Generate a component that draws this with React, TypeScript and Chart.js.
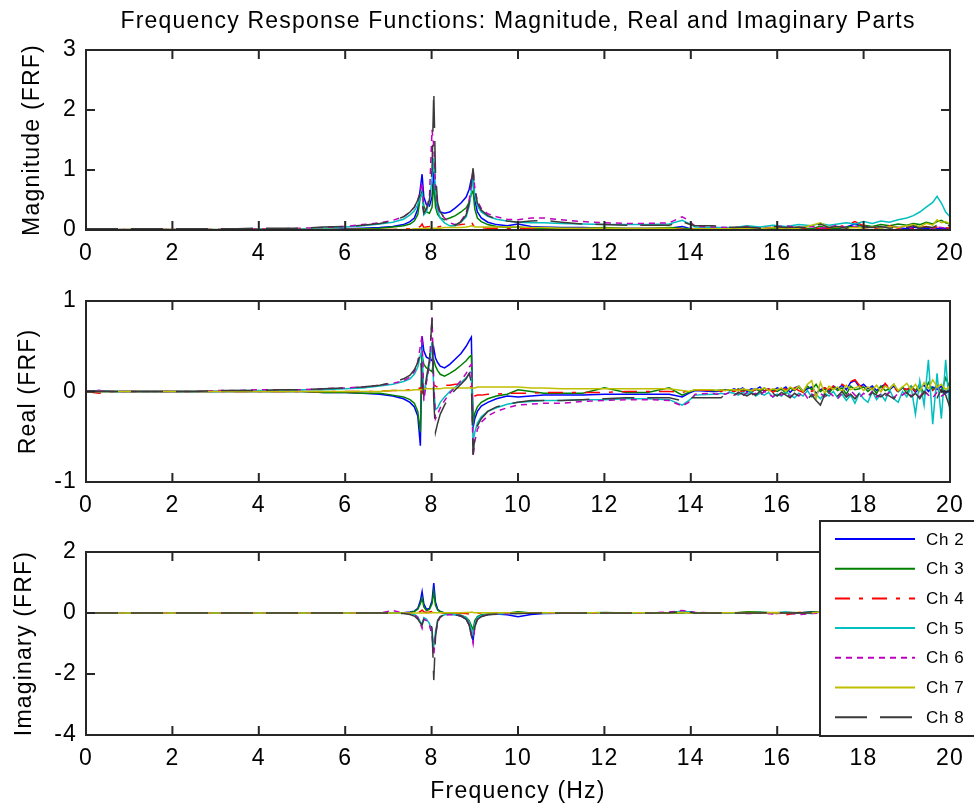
import React, { useEffect, useRef } from "react";
import { Chart, registerables } from "chart.js";
Chart.register(...registerables);

const FONT = '"Liberation Sans", Arial, Helvetica, sans-serif';
const W = 974;

// Frequency axis (Hz) for magnitude and imaginary panels
const FREQ = [
  0, 0.3, 0.6, 1, 1.5, 2, 2.5, 3, 3.5, 4, 4.5, 5, 5.5, 6,
  6.4, 6.8, 7.1, 7.35, 7.5, 7.6, 7.68, 7.74, 7.78, 7.82, 7.88, 7.95,
  8.01, 8.05, 8.09, 8.14, 8.2, 8.3, 8.42, 8.55, 8.68, 8.8, 8.87, 8.92, 8.96, 9.0, 9.06, 9.15,
  9.3, 9.5, 9.75, 10, 10.3, 10.6, 11, 11.5, 12, 12.5, 13, 13.5, 13.8, 13.95, 14.1, 14.5,
  15, 15.3, 15.6, 15.9, 16.2, 16.5, 16.8, 17, 17.2, 17.4, 17.6, 17.8, 18,
  18.2, 18.4, 18.6, 18.8, 19, 19.15, 19.3, 19.45, 19.6, 19.7, 19.8, 19.9, 20,
];

// Frequency axis (Hz) for the real-part panel (finer above 14.5 Hz)
const FREQ_RE = [
  0, 0.3, 0.6, 1, 1.5, 2, 2.5, 3, 3.5, 4, 4.5, 5, 5.5, 6,
  6.4, 6.8, 7.1, 7.35, 7.5, 7.6, 7.68, 7.74, 7.78, 7.82, 7.88, 7.95,
  8.01, 8.05, 8.09, 8.14, 8.2, 8.3, 8.42, 8.55, 8.68, 8.8, 8.87, 8.92, 8.96, 9.0, 9.06, 9.15,
  9.3, 9.5, 9.75, 10, 10.3, 10.6, 11, 11.5, 12, 12.5, 13, 13.5, 13.8, 13.95, 14.1, 14.5,
  14.6, 14.7, 14.8, 14.9, 15.0,
  15.1, 15.2, 15.3, 15.4, 15.5, 15.6, 15.7, 15.8, 15.9, 16.0,
  16.1, 16.2, 16.3, 16.4, 16.5, 16.6, 16.7, 16.8, 16.9, 17.0,
  17.1, 17.2, 17.3, 17.4, 17.5, 17.6, 17.7, 17.8, 17.9, 18.0,
  18.1, 18.2, 18.3, 18.4, 18.5, 18.6, 18.7, 18.8, 18.9, 19.0,
  19.1, 19.2, 19.3, 19.4, 19.5, 19.6, 19.7, 19.8, 19.9, 20.0,
];

const CHANNELS = ["Ch 2", "Ch 3", "Ch 4", "Ch 5", "Ch 6", "Ch 7", "Ch 8"];
const X_TICKS = [0, 2, 4, 6, 8, 10, 12, 14, 16, 18, 20];
const MAG_TICKS = [0, 1, 2, 3];
const REAL_TICKS = [-1, 0, 1];
const IMAG_TICKS = [-4, -2, 0, 2];

// ---- Magnitude ----
const MAG_CH2 = [
  0, 0, 0, 0, 0, 0, 0, 0, 0, 0, 0, 0.01, 0.01, 0.02,
  0.03, 0.04, 0.06, 0.09, 0.14, 0.2, 0.35, 0.7, 0.93, 0.55, 0.42, 0.4,
  0.55, 0.98, 0.5, 0.35, 0.3, 0.28, 0.3, 0.37, 0.45, 0.55, 0.68, 0.85, 0.9, 0.5, 0.3, 0.2,
  0.13, 0.09, 0.07, 0.1, 0.06, 0.05, 0.04, 0.04, 0.03, 0.03, 0.03, 0.03, 0.06, 0.03, 0.02, 0.02,
  0.02, 0.03, 0.02, 0.04, 0.02, 0.03, 0.01, 0.02, 0.04, 0.02, 0.05, 0.1, 0.06,
  0.05, 0.03, 0.07, 0.04, 0.02, 0.05, 0.03, 0.02, 0.04, 0.03, 0.02, 0.03, 0.02,
];
const MAG_CH3 = [
  0, 0, 0, 0, 0, 0, 0, 0, 0, 0, 0, 0.01, 0.01, 0.01,
  0.02, 0.03, 0.05, 0.07, 0.1, 0.15, 0.26, 0.55, 0.65, 0.4, 0.3, 0.28,
  0.38, 0.78, 0.38, 0.26, 0.2, 0.17, 0.2, 0.24, 0.3, 0.37, 0.46, 0.6, 0.65, 0.35, 0.2, 0.14,
  0.09, 0.06, 0.04, 0.05, 0.03, 0.02, 0.03, 0.02, 0.04, 0.02, 0.02, 0.04, 0.03, 0.02, 0.02, 0.02,
  0.01, 0.03, 0.02, 0.03, 0.01, 0.04, 0.02, 0.06, 0.02, 0.03, 0.05, 0.06, 0.08,
  0.06, 0.09, 0.07, 0.1, 0.08, 0.11, 0.09, 0.13, 0.1, 0.14, 0.16, 0.12, 0.1,
];
const MAG_CH4 = [
  0.01, 0.02, 0.01, 0.01, 0.01, 0.01, 0.01, 0.01, 0.01, 0.01, 0.01, 0.01, 0.01, 0.01,
  0.01, 0.01, 0.01, 0.02, 0.02, 0.03, 0.04, 0.06, 0.1, 0.04, 0.05, 0.06,
  0.08, 0.1, 0.07, 0.05, 0.06, 0.07, 0.07, 0.08, 0.09, 0.1, 0.12, 0.15, 0.08, 0.06, 0.05, 0.04,
  0.03, 0.03, 0.02, 0.02, 0.02, 0.01, 0.01, 0.01, 0.01, 0.01, 0.01, 0.01, 0.02, 0.01, 0.02, 0.01,
  0.01, 0.02, 0.01, 0.03, 0.02, 0.02, 0.02, 0.03, 0.02, 0.05, 0.08, 0.14, 0.07,
  0.04, 0.02, 0.07, 0.03, 0.05, 0.02, 0.04, 0.06, 0.03, 0.05, 0.02, 0.04, 0.03,
];
const MAG_CH5 = [
  0.01, 0.01, 0.01, 0.01, 0.01, 0.01, 0.01, 0.01, 0.01, 0.02, 0.02, 0.02, 0.03, 0.05,
  0.07, 0.1, 0.13, 0.18, 0.25, 0.32, 0.42, 0.55, 0.6, 0.25, 0.3, 0.5,
  0.85, 1.2, 0.65, 0.32, 0.2, 0.12, 0.07, 0.07, 0.13, 0.22, 0.4, 0.65, 0.85, 0.58, 0.4, 0.3,
  0.23, 0.18, 0.15, 0.13, 0.12, 0.12, 0.11, 0.1, 0.09, 0.09, 0.09, 0.1, 0.16, 0.11, 0.05, 0.04,
  0.04, 0.07, 0.05, 0.08, 0.06, 0.09, 0.07, 0.11, 0.08, 0.1, 0.12, 0.1, 0.14,
  0.11, 0.15, 0.13, 0.17, 0.2, 0.24, 0.3, 0.38, 0.46, 0.56, 0.45, 0.3, 0.22,
];
const MAG_CH6 = [
  0.01, 0.02, 0.01, 0.01, 0.01, 0.01, 0.01, 0.01, 0.02, 0.02, 0.02, 0.03, 0.04, 0.06,
  0.09, 0.12, 0.16, 0.22, 0.3, 0.38, 0.5, 0.65, 0.8, 0.3, 0.35, 0.55,
  1.67, 1.4, 0.75, 0.4, 0.28, 0.2, 0.12, 0.09, 0.15, 0.28, 0.5, 0.8, 1.0, 0.7, 0.48, 0.36,
  0.27, 0.22, 0.18, 0.17, 0.2, 0.2, 0.17, 0.14, 0.12, 0.11, 0.11, 0.12, 0.22, 0.16, 0.06, 0.05,
  0.04, 0.06, 0.03, 0.05, 0.07, 0.04, 0.06, 0.03, 0.05, 0.08, 0.04, 0.06, 0.03,
  0.05, 0.03, 0.06, 0.04, 0.05, 0.03, 0.04, 0.06, 0.03, 0.05, 0.04, 0.03, 0.05,
];
const MAG_CH7 = [
  0.01, 0.01, 0.01, 0.01, 0.01, 0.01, 0.01, 0.01, 0.01, 0.01, 0.01, 0.01, 0.01, 0.01,
  0.01, 0.01, 0.01, 0.01, 0.01, 0.02, 0.02, 0.02, 0.02, 0.03, 0.03, 0.03,
  0.03, 0.03, 0.03, 0.03, 0.03, 0.04, 0.04, 0.04, 0.04, 0.05, 0.06, 0.07, 0.06, 0.05, 0.05, 0.05,
  0.05, 0.05, 0.05, 0.05, 0.04, 0.04, 0.03, 0.03, 0.03, 0.03, 0.03, 0.03, 0.01, 0.01, 0.02, 0.02,
  0.02, 0.03, 0.02, 0.04, 0.02, 0.03, 0.08, 0.12, 0.04, 0.05, 0.03, 0.04, 0.03,
  0.05, 0.03, 0.06, 0.04, 0.07, 0.09, 0.05, 0.11, 0.08, 0.17, 0.12, 0.14, 0.1,
];
const MAG_CH8 = [
  0.02, 0.02, 0.02, 0.02, 0.02, 0.02, 0.02, 0.02, 0.02, 0.03, 0.03, 0.03, 0.05, 0.06,
  0.08, 0.11, 0.15, 0.22, 0.3, 0.38, 0.5, 0.6, 0.45, 0.28, 0.35, 0.5,
  1.0, 2.31, 0.95, 0.45, 0.3, 0.2, 0.12, 0.08, 0.14, 0.25, 0.45, 0.78, 1.03, 0.68, 0.45, 0.33,
  0.24, 0.18, 0.15, 0.13, 0.15, 0.16, 0.13, 0.1, 0.09, 0.08, 0.08, 0.08, 0.14, 0.1, 0.07, 0.07,
  0.04, 0.05, 0.03, 0.06, 0.04, 0.05, 0.03, 0.1, 0.04, 0.06, 0.03, 0.07, 0.05,
  0.04, 0.06, 0.03, 0.05, 0.04, 0.07, 0.03, 0.05, 0.04, 0.08, 0.05, 0.1, 0.06,
];

// ---- Real part (on FREQ_RE) ----
const RE_CH2 = [
  0, 0.01, 0, 0, 0, 0, 0, 0, 0, 0, 0, 0, -0.01, -0.01,
  -0.02, -0.03, -0.05, -0.08, -0.12, -0.17, -0.27, -0.6, 0.61, 0.45, 0.38, 0.36,
  0.34, 0.48, 0.37, 0.32, 0.28, 0.26, 0.3, 0.36, 0.42, 0.5, 0.56, 0.6, -0.4, -0.3, -0.22, -0.16,
  -0.12, -0.08, -0.05, -0.06, -0.05, -0.04, -0.04, -0.04, -0.03, -0.03, -0.03, -0.03, -0.06, -0.02, 0.01, 0.0,
  0.0, 0.01, 0.02, 0.01, 0.03,
  0.01, 0.04, 0.0, 0.03, 0.02, 0.05, 0.0, 0.03, 0.01, 0.04,
  0.02, 0.05, -0.01, 0.04, 0.06, 0.0, 0.03, 0.05, -0.02, 0.02,
  0.04, 0.0, 0.06, 0.03, 0.07, 0.02, 0.1, 0.12, 0.05, 0.08,
  0.03, 0.06, 0.01, 0.05, 0.08, 0.02, 0.06, 0.0, 0.04, 0.02,
  0.05, -0.01, 0.04, 0.07, 0.0, 0.05, 0.02, 0.06, -0.02, 0.03,
];
const RE_CH3 = [
  0, 0, 0, 0, 0, 0, 0, 0, 0, 0, 0, 0, -0.01, -0.01,
  -0.02, -0.02, -0.04, -0.06, -0.09, -0.13, -0.22, -0.45, 0.4, 0.3, 0.26, 0.24,
  0.22, 0.35, 0.28, 0.23, 0.19, 0.17, 0.2, 0.24, 0.29, 0.34, 0.38, 0.4, -0.35, -0.24, -0.17, -0.12,
  -0.08, -0.05, -0.03, 0.02, 0.0, -0.02, -0.02, -0.02, 0.04, -0.01, -0.01, 0.04, -0.04, -0.01, 0.02, 0.01,
  0.01, 0.02, 0.01, 0.02, 0.0,
  0.03, 0.01, 0.02, -0.01, 0.03, 0.0, 0.04, 0.01, 0.02, 0.0,
  0.03, -0.02, 0.04, 0.01, 0.05, -0.01, 0.06, 0.02, 0.08, 0.0,
  0.03, -0.02, 0.05, 0.01, 0.04, -0.03, 0.06, 0.02, 0.03, 0.05,
  0.0, 0.04, -0.02, 0.06, 0.01, 0.03, 0.08, 0.0, 0.05, -0.02,
  0.06, 0.01, 0.08, -0.03, 0.1, 0.02, 0.07, 0.0, 0.15, 0.04,
];
const RE_CH4 = [
  0, -0.02, 0, 0, 0, 0, 0, 0, 0, 0, 0, 0, 0, 0,
  0, 0, 0.01, 0.01, 0.02, 0.02, 0.03, 0.04, -0.02, 0.02, 0.04, 0.05,
  0.06, 0.08, 0.06, 0.05, 0.06, 0.07, 0.07, 0.08, 0.08, 0.07, 0.06, 0.05, -0.06, -0.05, -0.04, -0.04,
  -0.03, -0.03, -0.02, -0.02, -0.02, -0.01, -0.01, -0.01, -0.01, 0, 0, 0, -0.01, 0.01, 0.02, 0.01,
  0.01, 0.0, 0.02, 0.01, 0.0,
  0.02, -0.01, 0.03, 0.0, 0.02, -0.02, 0.01, 0.03, -0.01, 0.02,
  0.0, 0.03, -0.02, 0.04, 0.01, -0.01, 0.05, 0.0, 0.03, 0.01,
  0.04, 0.02, 0.06, 0.03, 0.08, 0.05, 0.11, 0.13, 0.07, 0.04,
  0.06, 0.02, 0.05, 0.0, 0.09, 0.03, 0.05, -0.01, 0.04, 0.02,
  0.05, 0.0, 0.03, -0.02, 0.04, 0.01, 0.06, 0.0, 0.03, 0.01,
];
const RE_CH5 = [
  0, 0, 0, 0, 0, 0, 0, 0, 0.01, 0.01, 0.01, 0.02, 0.02, 0.03,
  0.04, 0.06, 0.08, 0.11, 0.14, 0.19, 0.27, 0.4, 0.46, -0.05, 0.12, 0.3,
  0.55, 0.02, -0.2, -0.18, -0.12, -0.06, 0.0, 0.05, 0.1, 0.15, 0.2, 0.22, -0.55, -0.45, -0.35, -0.28,
  -0.22, -0.18, -0.14, -0.12, -0.11, -0.1, -0.1, -0.09, -0.09, -0.08, -0.08, -0.09, -0.15, -0.1, -0.04, -0.03,
  -0.03, -0.02, -0.03, -0.01, -0.02,
  -0.04, -0.01, -0.03, 0.0, -0.05, -0.02, -0.04, -0.01, -0.06, -0.03,
  -0.05, 0.0, -0.04, -0.07, -0.02, -0.05, 0.01, -0.06, -0.03, -0.08,
  -0.02, -0.05, 0.0, -0.07, -0.03, -0.1, -0.04, -0.13, -0.02, -0.08,
  -0.12, 0.0, -0.09, -0.03, -0.1, 0.02, -0.08, -0.12, 0.0, -0.06,
  0.05, -0.25, 0.12, -0.15, 0.35, -0.36, 0.2, -0.3, 0.35, -0.26,
];
const RE_CH6 = [
  0, 0.01, 0, 0, 0, 0, 0, 0.01, 0.01, 0.02, 0.02, 0.02, 0.03, 0.04,
  0.05, 0.07, 0.09, 0.12, 0.16, 0.22, 0.33, 0.5, 0.62, -0.1, 0.1, 0.3,
  0.82, 0.1, -0.3, -0.25, -0.18, -0.1, -0.02, 0.05, 0.12, 0.2, 0.27, 0.3, -0.72, -0.55, -0.42, -0.34,
  -0.27, -0.22, -0.18, -0.15, -0.14, -0.13, -0.13, -0.11, -0.1, -0.09, -0.09, -0.1, -0.16, -0.12, -0.03, -0.02,
  -0.03, -0.02, -0.03, -0.01, -0.04,
  -0.02, -0.05, -0.01, -0.04, -0.02, -0.05, 0.0, -0.03, -0.06, -0.02,
  -0.04, -0.01, -0.06, -0.02, -0.05, 0.0, -0.07, -0.03, -0.05, -0.02,
  -0.06, -0.01, -0.05, -0.08, -0.02, -0.06, 0.01, -0.04, -0.07, -0.02,
  -0.05, 0.0, -0.06, -0.03, -0.05, -0.01, -0.07, -0.02, -0.04, 0.0,
  -0.05, -0.02, -0.06, 0.01, -0.04, -0.07, -0.01, -0.05, -0.02, -0.04,
];
const RE_CH7 = [
  0, 0, 0, 0, 0, 0, 0, 0, 0, 0, 0, 0, 0, 0,
  0, 0, 0.01, 0.01, 0.01, 0.02, 0.02, 0.02, 0.02, 0.03, 0.03, 0.03,
  0.03, 0.03, 0.03, 0.03, 0.03, 0.04, 0.04, 0.04, 0.04, 0.04, 0.04, 0.04, 0.04, 0.04, 0.05, 0.05,
  0.05, 0.05, 0.05, 0.05, 0.04, 0.04, 0.03, 0.03, 0.03, 0.03, 0.03, 0.03, 0.01, 0.0, 0.02, 0.02,
  0.01, 0.02, 0.01, 0.02, 0.02,
  0.01, 0.03, 0.02, 0.01, 0.03, 0.02, 0.04, 0.01, 0.03, 0.02,
  0.04, 0.0, 0.05, 0.02, 0.06, 0.0, 0.08, 0.12, -0.08, 0.1,
  -0.02, 0.06, 0.02, 0.05, 0.0, 0.07, 0.02, 0.04, 0.06, 0.01,
  0.05, 0.02, 0.07, 0.0, 0.06, 0.03, 0.08, 0.01, 0.05, 0.09,
  0.02, 0.08, 0.0, 0.1, 0.03, 0.13, 0.05, 0.08, 0.02, 0.06,
];
const RE_CH8 = [
  0, 0, 0, 0, 0, 0, 0, 0.01, 0.01, 0.01, 0.02, 0.02, 0.03, 0.04,
  0.05, 0.07, 0.1, 0.14, 0.18, 0.24, 0.32, 0.42, 0.1, -0.05, 0.15, 0.35,
  0.81, -0.1, -0.45, -0.35, -0.25, -0.15, -0.05, 0.02, 0.08, 0.14, 0.2, 0.1, -0.7, -0.5, -0.38, -0.3,
  -0.22, -0.17, -0.14, -0.12, -0.1, -0.1, -0.1, -0.09, -0.08, -0.07, -0.07, -0.07, -0.1, -0.07, -0.07, -0.07,
  -0.07, -0.07, -0.03, -0.02, -0.04,
  -0.01, -0.03, -0.05, -0.02, -0.04, 0.0, -0.03, -0.06, -0.02, -0.05,
  -0.01, -0.04, -0.07, -0.02, -0.05, -0.03, -0.08, -0.04, -0.1, -0.15,
  -0.03, -0.07, -0.02, -0.05, 0.0, -0.06, -0.03, -0.08, -0.02, -0.05,
  -0.07, -0.01, -0.04, -0.06, -0.02, -0.05, -0.08, -0.03, -0.05, -0.01,
  -0.06, -0.02, -0.08, 0.0, -0.05, -0.03, -0.07, 0.02, -0.04, -0.18,
];

// ---- Imaginary part ----
const IM_CH2 = [
  0, 0, 0, 0, 0, 0, 0, 0, 0, 0, 0, 0, 0, 0,
  0, 0, 0, 0.01, 0.03, 0.06, 0.15, 0.4, 0.7, 0.3, 0.12, 0.15,
  0.4, 0.98, 0.35, 0.12, 0.05, 0, -0.03, -0.06, -0.1, -0.2, -0.38, -0.65, -0.9, -0.4, -0.18, -0.09,
  -0.05, -0.03, -0.06, -0.12, -0.05, -0.02, -0.01, 0, 0, 0, 0, 0, 0.02, 0.03, 0.01, 0,
  0, 0, 0.01, 0, 0.02, 0, 0.04, 0.03, 0, 0.05, 0, 0.03, 0,
  0.02, 0, 0.03, 0, 0.02, 0, 0.01, 0.03, 0, 0.02, 0, 0.01, 0,
];
const IM_CH3 = [
  0, 0, 0, 0, 0, 0, 0, 0, 0, 0, 0, 0, 0, 0,
  0, 0, 0, 0.01, 0.02, 0.05, 0.12, 0.3, 0.5, 0.2, 0.08, 0.12,
  0.3, 0.7, 0.25, 0.1, 0.04, 0, -0.02, -0.04, -0.07, -0.14, -0.25, -0.42, -0.55, -0.25, -0.12, -0.06,
  -0.03, -0.02, -0.01, 0.04, 0, 0, 0, 0, 0.02, 0, 0, 0, 0, 0.02, 0, 0,
  0, 0.04, 0.03, 0, 0.02, 0, 0.03, 0.02, 0, 0.03, 0, 0.02, 0,
  0, 0.02, 0, 0.03, 0, 0.01, 0, 0.02, 0, 0.03, 0, 0.01, 0,
];
const IM_CH4 = [
  0, 0, 0, 0, 0, 0, 0, 0, 0, 0, 0, 0, 0, 0,
  0, 0, 0, 0, 0, 0, 0.02, 0.05, 0.1, 0.04, 0.02, 0.03,
  0.05, 0.06, 0.03, 0.02, 0.01, 0, 0, 0, -0.01, -0.02, -0.03, -0.05, -0.04, -0.02, -0.01, 0,
  0, 0, 0, 0, 0, 0, 0, 0, 0, 0, 0, 0, 0.05, 0.02, 0, 0,
  0, 0, 0, 0, -0.06, 0.02, 0, 0.03, 0, 0.04, 0, 0.06, 0,
  0.02, 0, 0.03, 0, 0.01, 0, 0.02, 0, 0.01, 0, 0.02, 0, 0,
];
const IM_CH5 = [
  0, 0, 0, 0, 0, 0, 0, 0, 0, 0, 0, 0, 0, 0,
  0, 0, 0, -0.01, -0.02, -0.05, -0.12, -0.3, -0.35, -0.15, -0.2, -0.35,
  -0.6, -1.1, -0.6, -0.25, -0.12, -0.06, -0.04, -0.05, -0.08, -0.15, -0.3, -0.55, -0.7, -0.35, -0.15, -0.08,
  -0.05, -0.03, -0.02, -0.02, 0, 0, 0, 0, 0, 0, 0, 0.02, 0.06, 0.04, 0.02, 0,
  0, 0, 0.02, 0, 0.03, 0, -0.02, 0.04, -0.03, 0.05, -0.02, 0.06, 0.04,
  0.08, 0.05, 0.1, 0.06, 0.12, 0.08, 0.15, 0.1, 0.2, 0.15, 0.1, 0.12, 0.08,
];
const IM_CH6 = [
  0, 0, 0, 0, 0, 0, 0, 0, 0, 0, 0, 0, 0, 0,
  0, 0, 0.08, 0, -0.02, -0.05, -0.15, -0.35, -0.5, -0.2, -0.25, -0.4,
  -0.75, -1.4, -0.7, -0.3, -0.14, -0.07, -0.05, -0.06, -0.09, -0.18, -0.38, -0.7, -1.0, -0.45, -0.2, -0.1,
  -0.06, -0.03, -0.02, -0.01, 0, 0, 0, 0, 0, 0, 0, 0.03, 0.08, 0.05, 0.02, 0,
  0.01, -0.02, 0, -0.03, 0, -0.05, -0.02, 0, 0.02, 0, 0.03, 0, 0.02,
  0, 0.02, 0, 0.01, 0, 0.02, 0, 0.01, 0, 0.02, 0, 0.01, 0,
];
const IM_CH7 = [
  0, 0, 0, 0, 0, 0, 0, 0, 0, 0, 0, 0, 0, 0,
  0, 0, 0, 0, 0, 0, 0, 0, 0, 0, 0, 0,
  0.01, 0.02, 0.01, 0.01, 0.01, 0.01, 0.01, 0.01, 0.01, 0.02, 0.02, 0.03, 0.02, 0.01, 0.01, 0.01,
  0.01, 0.01, 0.01, 0.01, 0.01, 0.01, 0.01, 0.01, 0.01, 0.01, 0.01, 0.01, 0.02, 0.01, 0.01, 0.01,
  0.01, 0.02, 0.01, 0.02, 0.01, 0.02, 0.01, 0.03, 0.01, 0.02, 0.01, 0.03, 0.02,
  0.02, 0.03, 0.02, 0.04, 0.03, 0.05, 0.03, 0.06, 0.04, 0.08, 0.05, 0.06, 0.04,
];
const IM_CH8 = [
  0, 0, 0, 0, 0, 0, 0, 0, 0, 0, 0, 0, 0, 0,
  0, 0, 0, -0.02, -0.05, -0.1, -0.2, -0.33, -0.4, -0.2, -0.15, -0.25,
  -0.5, -2.2, -0.8, -0.25, -0.12, -0.06, -0.05, -0.06, -0.1, -0.2, -0.4, -0.75, -0.92, -0.45, -0.22, -0.12,
  -0.06, -0.04, -0.02, -0.02, -0.01, 0, 0, 0, 0, 0, 0, 0.01, 0.05, 0.03, 0, 0,
  0, 0, 0, 0.02, 0, 0.01, 0, 0, 0, 0, 0, 0, 0,
  0, 0, 0, 0, 0, 0, 0, 0, 0, 0, 0, 0, 0,
];

const MAG = [MAG_CH2, MAG_CH3, MAG_CH4, MAG_CH5, MAG_CH6, MAG_CH7, MAG_CH8];
const REAL = [RE_CH2, RE_CH3, RE_CH4, RE_CH5, RE_CH6, RE_CH7, RE_CH8];
const IMAG = [IM_CH2, IM_CH3, IM_CH4, IM_CH5, IM_CH6, IM_CH7, IM_CH8];

const COLORS = ["#0000ff", "#008000", "#ff0000", "#00bfbf", "#bf00bf", "#bfbf00", "#3a3a3a"];
const DASHES: number[][] = [[], [], [15, 9, 4, 9], [], [6, 5], [], [32, 13]];
const AXIS_COLOR = "#262626";
const TEXT_SIZE = 23;
const LETTER_SPACING = "1.2px";

const spacingPlugin = {
  id: "matlabSpacing",
  beforeUpdate(chart: any) {
    (chart.ctx as any).letterSpacing = LETTER_SPACING;
  },
  beforeDraw(chart: any) {
    (chart.ctx as any).letterSpacing = LETTER_SPACING;
  },
};

const framePlugin = {
  id: "matlabFrame",
  afterDraw(chart: any) {
    const { ctx, chartArea: a, scales } = chart;
    const x = scales.x;
    const y = scales.y;
    ctx.save();
    ctx.setLineDash([]);
    ctx.strokeStyle = AXIS_COLOR;
    ctx.lineWidth = 2;
    ctx.strokeRect(a.left, a.top, a.right - a.left, a.bottom - a.top);
    ctx.beginPath();
    const L = 9;
    x.ticks.forEach((t: any) => {
      const px = x.getPixelForValue(t.value);
      if (px <= a.left + 1 || px >= a.right - 1) return;
      ctx.moveTo(px, a.bottom);
      ctx.lineTo(px, a.bottom - L);
      ctx.moveTo(px, a.top);
      ctx.lineTo(px, a.top + L);
    });
    y.ticks.forEach((t: any) => {
      const py = y.getPixelForValue(t.value);
      if (py <= a.top + 1 || py >= a.bottom - 1) return;
      ctx.moveTo(a.left, py);
      ctx.lineTo(a.left + L, py);
      ctx.moveTo(a.right, py);
      ctx.lineTo(a.right - L, py);
    });
    ctx.stroke();
    ctx.restore();
  },
};

const legendPlugin = {
  id: "matlabLegend",
  afterDraw(chart: any) {
    const ctx = chart.ctx;
    ctx.save();
    const x0 = 820, y0 = 1, x1 = 990, y1 = 216;
    ctx.fillStyle = "#ffffff";
    ctx.fillRect(x0, y0, x1 - x0, y1 - y0);
    ctx.strokeStyle = AXIS_COLOR;
    ctx.lineWidth = 2;
    ctx.setLineDash([]);
    ctx.strokeRect(x0, y0, x1 - x0, y1 - y0);
    (ctx as any).letterSpacing = "0.6px";
    ctx.font = `17px ${FONT}`;
    ctx.textBaseline = "middle";
    ctx.textAlign = "left";
    CHANNELS.forEach((name, i) => {
      const yy = 19 + i * 29.7;
      ctx.strokeStyle = COLORS[i];
      ctx.lineWidth = 2;
      ctx.setLineDash(DASHES[i]);
      ctx.beginPath();
      ctx.moveTo(835, yy);
      ctx.lineTo(915, yy);
      ctx.stroke();
      ctx.setLineDash([]);
      ctx.fillStyle = "#000";
      ctx.fillText(name, 926, yy + 1);
    });
    ctx.restore();
  },
};

type PanelSpec = {
  height: number;
  padTop: number;
  xAxisH: number;
  freq: number[];
  series: number[][];
  yMin: number;
  yMax: number;
  yTicks: number[];
  yTitle: string;
  yTitlePad: number;
  title?: string;
  xTitle?: string;
  legend?: boolean;
};

function buildConfig(p: PanelSpec): any {
  const font = { family: FONT, size: TEXT_SIZE };
  return {
    type: "line",
    data: {
      datasets: p.series.map((vals, i) => ({
        label: CHANNELS[i],
        data: p.freq.map((f, k) => ({ x: f, y: vals[k] })),
        borderColor: COLORS[i],
        backgroundColor: COLORS[i],
        borderWidth: 1.5,
        borderDash: DASHES[i],
        pointRadius: 0,
        fill: false,
        tension: 0,
        order: 7 - i,
      })),
    },
    options: {
      responsive: false,
      animation: false,
      events: [],
      layout: { padding: { left: 0, right: 21, top: p.padTop, bottom: 0 } },
      plugins: {
        legend: { display: false },
        tooltip: { enabled: false },
        title: p.title
          ? {
              display: true,
              fullSize: false,
              align: "center",
              text: p.title,
              color: "#000",
              font: { family: FONT, size: TEXT_SIZE, weight: "normal" },
              padding: { top: 8, bottom: 14.4 },
            }
          : { display: false },
      },
      scales: {
        x: {
          type: "linear",
          min: 0,
          max: 20,
          afterBuildTicks: (s: any) => {
            s.ticks = X_TICKS.map((v) => ({ value: v }));
          },
          ticks: { color: "#000", font, padding: 10, maxRotation: 0, autoSkip: false },
          grid: { display: false, drawTicks: false },
          border: { display: false },
          title: p.xTitle
            ? { display: true, text: p.xTitle, color: "#000", font, padding: { top: 0, bottom: 5 } }
            : { display: false },
          afterFit: (s: any) => {
            s.height = p.xAxisH;
          },
        },
        y: {
          type: "linear",
          min: p.yMin,
          max: p.yMax,
          afterBuildTicks: (s: any) => {
            s.ticks = p.yTicks.map((v) => ({ value: v }));
          },
          ticks: { color: "#000", font, padding: 9 },
          grid: { display: false, drawTicks: false },
          border: { display: false },
          title: { display: true, text: p.yTitle, color: "#000", font, padding: { top: p.yTitlePad, bottom: 0 } },
          afterFit: (s: any) => {
            s.width = 86;
          },
        },
      },
    },
    plugins: p.legend ? [spacingPlugin, framePlugin, legendPlugin] : [spacingPlugin, framePlugin],
  };
}

function Panel({ top, spec }: { top: number; spec: PanelSpec }) {
  const ref = useRef<HTMLCanvasElement | null>(null);
  useEffect(() => {
    if (!ref.current) return;
    const chart = new Chart(ref.current, buildConfig(spec));
    return () => chart.destroy();
  }, []);
  return (
    <canvas
      ref={ref}
      width={W}
      height={spec.height}
      style={{ position: "absolute", left: 0, top, width: W, height: spec.height }}
    />
  );
}

const PANELS: { top: number; spec: PanelSpec }[] = [
  {
    top: 0,
    spec: {
      height: 270, padTop: 0, xAxisH: 40, freq: FREQ, series: MAG, yMin: 0, yMax: 3, yTicks: MAG_TICKS,
      yTitle: "Magnitude (FRF)", yTitlePad: 19,
      title: "Frequency Response Functions: Magnitude, Real and Imaginary Parts",
    },
  },
  {
    top: 270,
    spec: {
      height: 250, padTop: 31, xAxisH: 38, freq: FREQ_RE, series: REAL, yMin: -1, yMax: 1, yTicks: REAL_TICKS,
      yTitle: "Real (FRF)", yTitlePad: 15,
    },
  },
  {
    top: 520,
    spec: {
      height: 290, padTop: 32, xAxisH: 75, freq: FREQ, series: IMAG, yMin: -4, yMax: 2, yTicks: IMAG_TICKS,
      yTitle: "Imaginary (FRF)", yTitlePad: 11, xTitle: "Frequency (Hz)", legend: true,
    },
  },
];

export default function App() {
  return (
    <div style={{ position: "absolute", left: 0, top: 0, width: W, height: 810, background: "#fff", overflow: "hidden" }}>
      {PANELS.map((p, i) => (
        <Panel key={i} top={p.top} spec={p.spec} />
      ))}
    </div>
  );
}
